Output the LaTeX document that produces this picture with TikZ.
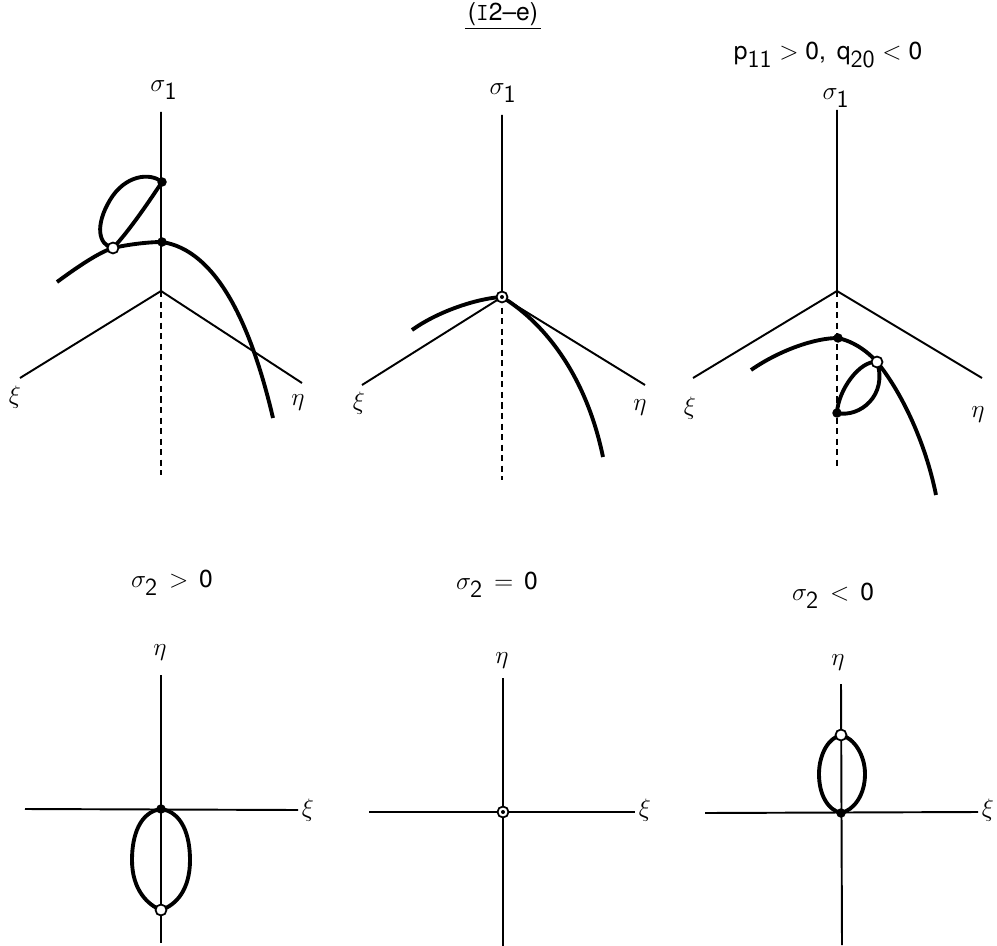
\documentclass[tikz,border=0pt]{standalone}
\usepackage{fontspec}
\setmainfont{TeX Gyre Heros}

\begin{document}
\begin{tikzpicture}[x=0.02cm,y=-0.02cm,font=\fontsize{14}{16}\selectfont,
  ax/.style={line width=1.1pt},
  dax/.style={line width=1.1pt,dash pattern=on 3.5pt off 2.5pt},
  crv/.style={line width=2.2pt},
  bdot/.style={circle,fill=black,inner sep=0pt,minimum size=0.19cm},
  wdot/.style={circle,draw,fill=white,line width=1pt,inner sep=0pt,minimum size=0.22cm},
  cdot/.style={circle,fill=black,inner sep=0pt,minimum size=0.08cm},
]
\useasboundingbox (0,0) rectangle (997,946);
\node[inner sep=1.5pt] (title) at (503,14) {(\texttt{I}2--e)};
\draw[line width=0.8pt] (title.south west) -- (title.south east);

% ---------------- TOP LEFT ----------------
\coordinate (O1) at (161,291);
\coordinate (S1) at (161,112);
\coordinate (X1) at (20,378);
\coordinate (E1) at (302,383);
\coordinate (D1) at (161,475);
\draw[ax] (S1) -- (O1) -- (X1) (O1) -- (E1);
\draw[dax] (O1) -- (D1);
\node (s1a) at (164,90) {$\sigma_{\textsf{1}}$};
\node (x1a) at (15,397) {$\xi$};
\node (e1a) at (298,403) {$\eta$};
\draw[crv] (57,282) .. controls (80,265) and (100,252) .. (113,248)
  .. controls (130,244) and (150,242) .. (162,242)
  .. controls (215,250) and (250,320) .. (273,418);
\draw[crv] (162,182) .. controls (150,172) and (125,175) .. (110,200)
  .. controls (95,225) and (98,245) .. (113,248)
  .. controls (130,230) and (150,200) .. (162,182);
\node[bdot] (p1a) at (162,182) {};
\node[bdot] (p1b) at (162,242) {};
\node[wdot] (p1c) at (113,248) {};

% ---------------- TOP MIDDLE ----------------
\coordinate (O2) at (502,297);
\coordinate (S2) at (502,115);
\coordinate (X2) at (362,385);
\coordinate (E2) at (645,385);
\coordinate (D2) at (502,480);
\draw[ax] (S2) -- (O2) -- (X2) (O2) -- (E2);
\draw[dax] (O2) -- (D2);
\node (s2a) at (503,93) {$\sigma_{\textsf{1}}$};
\node (x2a) at (359,403) {$\xi$};
\node (e2a) at (640,408) {$\eta$};
\draw[crv] (412,330) .. controls (440,310) and (480,298) .. (502,297)
  .. controls (540,320) and (585,370) .. (603,457);
\node[wdot] (p2a) at (O2) {};
\node[cdot] (p2b) at (O2) {};

% ---------------- TOP RIGHT ----------------
\node (cond) at (828,55) {p$_{\textsf{11}}$ $>$ 0, \,q$_{\textsf{20}}$ $<$ 0};
\coordinate (O3) at (837,291);
\coordinate (S3) at (837,110);
\coordinate (X3) at (693,378);
\coordinate (E3) at (982,378);
\coordinate (D3) at (837,468);
\draw[ax] (S3) -- (O3) -- (X3) (O3) -- (E3);
\draw[dax] (O3) -- (D3);
\node (s3a) at (836,98) {$\sigma_{\textsf{1}}$};
\node (x3a) at (690,408) {$\xi$};
\node (e3a) at (978,415) {$\eta$};
\draw[crv] (751,370) .. controls (780,350) and (815,338) .. (838,338)
  .. controls (855,342) and (868,352) .. (877,362)
  .. controls (900,390) and (925,440) .. (936,495);
\draw[crv] (877,362) .. controls (860,360) and (838,390) .. (837,413)
  .. controls (860,418) and (888,395) .. (877,362);
\node[bdot] (p3a) at (838,338) {};
\node[bdot] (p3b) at (837,413) {};
\node[wdot] (p3c) at (877,362) {};

% ---------------- captions ----------------
\node (c1) at (172,583) {$\sigma_{\textsf{2}}$ \,$>$\, 0};
\node (c2) at (497,585) {$\sigma_{\textsf{2}}$ \,$=$\, 0};
\node (c3) at (833,596) {$\sigma_{\textsf{2}}$ \,$<$\, 0};

% ---------------- BOTTOM LEFT ----------------
\coordinate (Q1) at (161,809);
\draw[ax] (161,675) coordinate (N1) -- (161,943) coordinate (M1);
\draw[ax] (25,809) coordinate (W1) -- (298,810) coordinate (R1);
\node (n1a) at (160,653) {$\eta$};
\node (r1a) at (308,810) {$\xi$};
\draw[crv] (Q1) .. controls (140,812) and (132,835) .. (132,860)
  .. controls (132,890) and (148,905) .. (161,910)
  .. controls (176,905) and (190,890) .. (190,860)
  .. controls (190,835) and (182,812) .. (Q1);
\node[bdot] (q1a) at (Q1) {};
\node[wdot] (q1b) at (161,910) {};

% ---------------- BOTTOM MIDDLE ----------------
\coordinate (Q2) at (503,812);
\draw[ax] (503,678) coordinate (N2) -- (503,946) coordinate (M2);
\draw[ax] (369,812) coordinate (W2) -- (635,812) coordinate (R2);
\node (n2a) at (502,661) {$\eta$};
\node (r2a) at (645,810) {$\xi$};
\node[wdot] (q2a) at (Q2) {};
\node[cdot] (q2b) at (Q2) {};

% ---------------- BOTTOM RIGHT ----------------
\coordinate (Q3) at (841,813);
\draw[ax] (841,684) coordinate (N3) -- (842,945) coordinate (M3);
\draw[ax] (705,813) coordinate (W3) -- (978,812) coordinate (R3);
\node (n3a) at (838,663) {$\eta$};
\node (r3a) at (988,810) {$\xi$};
\draw[crv] (Q3) .. controls (828,810) and (819,795) .. (819,774)
  .. controls (819,755) and (828,738) .. (841,735)
  .. controls (854,738) and (865,755) .. (865,774)
  .. controls (865,795) and (854,810) .. (Q3);
\node[bdot] (q3a) at (Q3) {};
\node[wdot] (q3b) at (841,735) {};
\end{tikzpicture}
\end{document}
